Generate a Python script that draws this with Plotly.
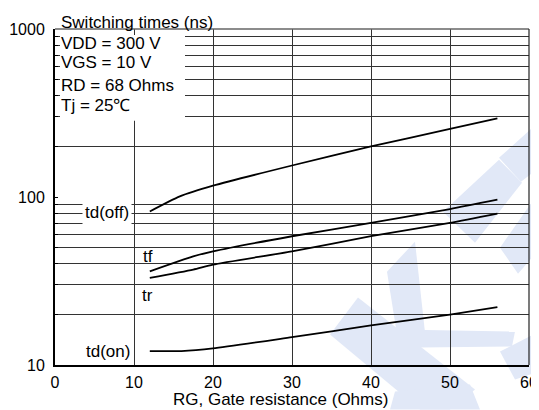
import plotly.graph_objects as go
import numpy as np

# ---- data ----
td_off_x = [12, 15.8, 20, 30, 40, 50, 56]
td_off_y = [82, 100.8, 116.7, 154, 200, 254, 294]
tf_x = [12, 17.5, 20, 30, 40, 50, 56]
tf_y = [36.1, 44.3, 47.5, 58.4, 70.1, 84.8, 96.4]
tr_x = [12, 17.5, 20, 30, 40, 50, 56]
tr_y = [33.0, 37.0, 39.6, 47.5, 58.4, 70.1, 79.6]
td_on_x = [12, 16, 20, 30, 40, 50, 56]
td_on_y = [12.1, 12.1, 12.55, 14.65, 17.2, 19.97, 22.1]

x_ticks = [0, 10, 20, 30, 40, 50, 60]
y_ticks = [10, 100, 1000]
y_minor = [20, 30, 40, 50, 60, 70, 80, 90, 200, 300, 400, 500, 600, 700, 800, 900]
conditions = ["VDD = 300 V", "VGS = 10 V", "RD = 68 Ohms", "Tj = 25℃"]

# page is 539x410; html body has an 8px margin, so the figure is slightly smaller
OFF = 8
W, H = 539 - OFF, 410 - OFF
PL, PR, PT, PB = 55, 529, 29, 365.5      # plot area on the page (pixels)
L, T = PL - OFF, PT - OFF
R = W - (PR - OFF)
B = H - (PB - OFF)
FONT = "Liberation Sans, Arial, sans-serif"
FS = 17
TFS = 16

fig = go.Figure()
for xs, ys in [(td_off_x, td_off_y), (tf_x, tf_y), (tr_x, tr_y), (td_on_x, td_on_y)]:
    fig.add_trace(go.Scatter(x=xs, y=ys, mode="lines",
                             line=dict(color="black", width=1.8, shape="spline", smoothing=0.6),
                             hoverinfo="skip", showlegend=False))

# helpers to convert page pixel positions to paper coordinates (decoration only)
def px(x):
    return (x - PL) / (PR - PL)
def py(y):
    return (PB - y) / (PB - PT)

shapes = []
# watermark (decorative)
wm = [
    [(539, 122), (539, 168), (521, 182), (499, 158)],
    [(499, 160), (522, 183), (475, 243), (443, 212)],
    [(539, 192), (539, 250), (518, 274), (500, 248)],
    [(387, 272), (415, 242), (425, 333), (397, 335)],
    [(397, 330), (515, 332), (512, 347), (420, 348)],
    [(330, 335), (358, 298), (475, 390), (450, 410), (420, 410)],
    [(500, 352), (539, 332), (539, 372), (515, 380)],
    [(395, 392), (470, 385), (480, 410), (390, 410)],
]
for poly in wm:
    path = "M " + " L ".join(f"{px(a):.4f},{py(b):.4f}" for a, b in poly) + " Z"
    shapes.append(dict(type="path", path=path, xref="paper", yref="paper",
                       fillcolor="rgb(225,232,247)", line=dict(width=0), layer="below"))
# white box behind the condition text
shapes.append(dict(type="rect", xref="paper", yref="paper", x0=px(60), x1=px(185), y0=py(121), y1=py(35),
                   fillcolor="white", line=dict(width=0), layer="above"))
# top and right frame
shapes.append(dict(type="line", xref="paper", yref="paper", x0=0, x1=1, y0=1, y1=1,
                   line=dict(color="#666", width=1.5)))
shapes.append(dict(type="line", xref="paper", yref="paper", x0=1, x1=1, y0=0, y1=1,
                   line=dict(color="#222", width=1.2)))

ann = []
cond_y = [44, 62.5, 86, 106]
for txt, yy in zip(conditions, cond_y):
    ann.append(dict(text=txt, xref="paper", yref="paper", x=px(59), y=py(yy), xanchor="left",
                    yanchor="middle", showarrow=False, font=dict(size=FS, color="black", family=FONT)))
ann.append(dict(text="Switching times (ns)", xref="paper", yref="paper", x=px(59), y=py(22),
                xanchor="left", yanchor="middle", showarrow=False,
                font=dict(size=FS, color="black", family=FONT)))
ann.append(dict(text="RG, Gate resistance (Ohms)", xref="paper", yref="paper", x=px(280), y=py(400),
                xanchor="center", yanchor="middle", showarrow=False,
                font=dict(size=FS, color="black", family=FONT)))
ann.append(dict(text="td(off)", x=9.75, y=np.log10(80.5), xanchor="right", yanchor="middle",
                showarrow=False, bgcolor="white", borderpad=2,
                font=dict(size=FS, color="black", family=FONT)))
ann.append(dict(text="td(on)", x=9.75, y=np.log10(12.05), xanchor="right", yanchor="middle",
                showarrow=False, font=dict(size=FS, color="black", family=FONT)))
ann.append(dict(text="tf", x=10.9, y=np.log10(44.5), xanchor="left", yanchor="middle",
                showarrow=False, font=dict(size=FS, color="black", family=FONT)))
ann.append(dict(text="tr", x=10.7, y=np.log10(25.9), xanchor="left", yanchor="middle",
                showarrow=False, font=dict(size=FS, color="black", family=FONT)))

fig.update_layout(
    width=W, height=H, margin=dict(l=L, r=R, t=T, b=B, autoexpand=False),
    paper_bgcolor="white", plot_bgcolor="rgba(0,0,0,0)",
    shapes=shapes, annotations=ann,
    font=dict(family=FONT, size=FS, color="black"),
)
fig.update_xaxes(range=[0, 60], tickvals=x_ticks, showgrid=True, gridcolor="#333", gridwidth=1,
                 showline=True, linecolor="black", linewidth=2, ticks="", zeroline=False,
                 automargin=False, ticklabelstandoff=2,
                 tickfont=dict(size=TFS, color="black"), fixedrange=True)
fig.update_yaxes(type="log", range=[1, 3], tickvals=y_ticks, ticktext=[str(v) for v in y_ticks],
                 showgrid=False, showline=True, linecolor="black", linewidth=2,
                 ticks="inside", ticklen=3, tickcolor="black", ticklabelstandoff=5,
                 automargin=False,
                 minor=dict(tickvals=y_minor, showgrid=True, gridcolor="#333", gridwidth=1,
                            ticks="inside", ticklen=3, tickcolor="black"),
                 tickfont=dict(size=TFS, color="black"), zeroline=False, fixedrange=True)
fig.write_html("out.html")
